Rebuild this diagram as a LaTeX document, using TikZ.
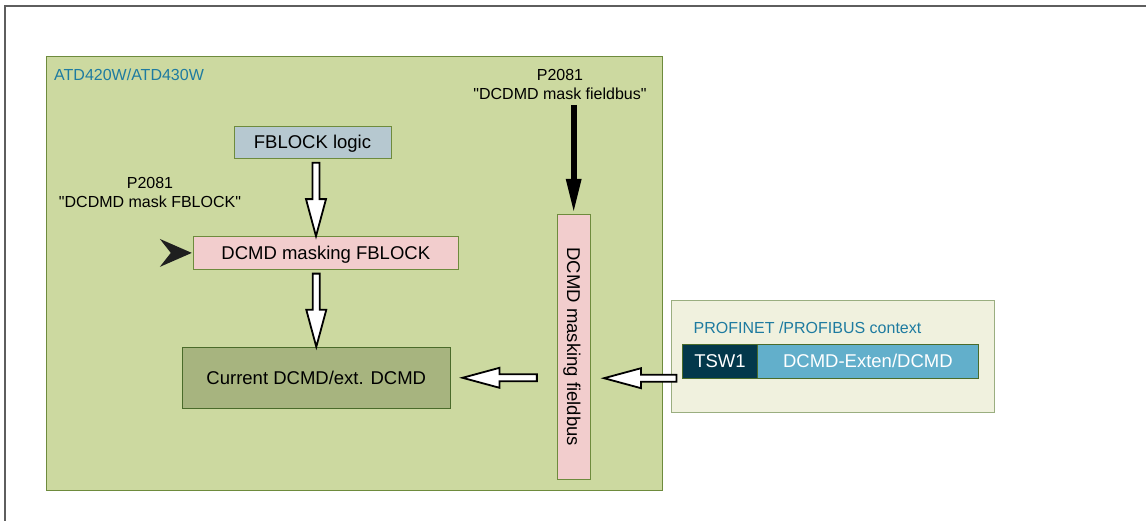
\documentclass[tikz,border=0pt]{standalone}
\usepackage{fontspec}
\setmainfont{Liberation Sans}
\usetikzlibrary{calc,arrows.meta}
\definecolor{greenbg}{HTML}{CCD9A0}
\definecolor{greenbd}{HTML}{6E8B3D}
\definecolor{fbfill}{HTML}{B6C8D0}
\definecolor{pinkfill}{HTML}{F2CDCD}
\definecolor{curfill}{HTML}{A7B47F}
\definecolor{curbd}{HTML}{4A6B2A}
\definecolor{panelfill}{HTML}{F0F1DE}
\definecolor{panelbd}{HTML}{9AAE80}
\definecolor{tswfill}{HTML}{03384B}
\definecolor{extfill}{HTML}{62AFCB}
\definecolor{bluetext}{HTML}{1E7BA0}
\definecolor{framegray}{HTML}{5E5E5E}
\tikzset{
  boxtext/.style={font=\fontsize{18.5}{21}\selectfont},
  capcenter/.style={text height=13.3pt, text depth=0pt},
  labeltext/.style={font=\fontsize{16}{18.3}\selectfont},
  plainbox/.style={draw=greenbd, line width=1pt, inner sep=0pt, boxtext, capcenter},
  hollow/.style={draw=black, fill=white, line width=1.8pt, line join=miter},
}
\newcommand{\arrowdown}[2]{%
  \draw[hollow] let \p1=(#1), \p2=(#2) in
    (\x1-3.5pt,\y1) -- (\x1+3.5pt,\y1) -- (\x1+3.5pt,\y2+37pt) -- (\x1+10pt,\y2+37pt)
    -- (\x1,\y2) -- (\x1-10pt,\y2+37pt) -- (\x1-3.5pt,\y2+37pt) -- cycle;}
\newcommand{\arrowleft}[2]{%
  \draw[hollow] let \p1=(#1), \p2=(#2) in
    (\x1,\y1+3.5pt) -- (\x2+37pt,\y1+3.5pt) -- (\x2+37pt,\y1+10pt) -- (\x2,\y1)
    -- (\x2+37pt,\y1-10pt) -- (\x2+37pt,\y1-3.5pt) -- (\x1,\y1-3.5pt) -- cycle;}
\begin{document}
\begin{tikzpicture}[x=1pt,y=-1pt]
\useasboundingbox (0,0) rectangle (1146,521);
% outer frame (top and left only)
\draw[framegray, line width=2pt] (5,521) -- (5,6) -- (1146,6);
% main green area
\node[draw=greenbd, fill=greenbg, line width=1pt, inner sep=0pt, anchor=north west,
      minimum width=616.5pt, minimum height=433.5pt] (main) at (45.5,56.5) {};
\node[labeltext, text=bluetext, anchor=west, inner sep=0pt] (atd) at (54,75) {ATD420W/ATD430W};
% right panel
\node[draw=panelbd, fill=panelfill, line width=1pt, inner sep=0pt, anchor=north west,
      minimum width=323pt, minimum height=111.7pt] (panel) at (671,300) {};
\node[labeltext, text=bluetext, anchor=west, inner sep=0pt] (pn) at (693.5,327.7) {PROFINET /PROFIBUS context};
\node[draw=curbd, fill=tswfill, line width=0.8pt, inner sep=0pt, text=white, boxtext, capcenter,
      minimum width=75.4pt, minimum height=34pt] (tsw) at (720,361.3) {TSW1};
\node[draw=curbd, fill=extfill, line width=0.8pt, inner sep=0pt, text=white, boxtext, capcenter,
      minimum width=220.3pt, minimum height=34pt] (ext) at (867.85,361.3) {DCMD-Exten/DCMD};
% boxes
\node[plainbox, fill=fbfill, minimum width=157pt, minimum height=32pt] (fb) at (312.5,142.2) {FBLOCK logic};
\node[plainbox, fill=pinkfill, minimum width=265pt, minimum height=32.5pt] (dm) at (325.8,252.9) {DCMD masking FBLOCK};
\node[plainbox, draw=curbd, fill=curfill, minimum width=267.5pt, minimum height=61pt] (cur) at (316.3,377.8) {Current DCMD/ext. DCMD};
\node[plainbox, fill=pinkfill, minimum width=32.7pt, minimum height=265pt] (bar) at (573.7,346.8) {};
\node[boxtext, capcenter, rotate=-90, inner sep=0pt] (bartext) at (bar.center) {DCMD masking fieldbus};
% labels
\node[labeltext, align=center, inner sep=0pt] (lfb) at (150,192.5) {P2081\\\textquotedbl DCDMD mask FBLOCK\textquotedbl};
\node[labeltext, align=center, inner sep=0pt] (lbus) at (560,84.5) {P2081\\\textquotedbl DCDMD mask fieldbus\textquotedbl};
% black arrow from fieldbus label to bar
\draw[line width=6pt, -{Triangle[length=35pt,width=14pt]}] ($(bar.north)+(0,-109)$) -- (bar.north);
% black arrowhead pointing at dm
\fill[black!88] ($(dm.west)+(-1,0)$) -- ++(-32,-14) -- ++(11,14) -- ++(-11,14) -- cycle;
% hollow arrows
\coordinate (a1s) at ($(fb.south)+(3.5,4)$);
\coordinate (a1t) at (a1s |- dm.north);
\arrowdown{a1s}{a1t}
\coordinate (a2s) at ($(cur.north |- dm.south)+(0,4)$);
\arrowdown{a2s}{cur.north}
\coordinate (a3s) at ($(bar.west |- cur.east)+(-20,0)$);
\coordinate (a3t) at ($(cur.east)+(12,0)$);
\arrowleft{a3s}{a3t}
\coordinate (a4s) at ($(tsw.south west)+(-5.5,-0.5)$);
\coordinate (a4t) at ($(bar.east |- a4s)+(13.5,0)$);
\arrowleft{a4s}{a4t}
\end{tikzpicture}
\end{document}
